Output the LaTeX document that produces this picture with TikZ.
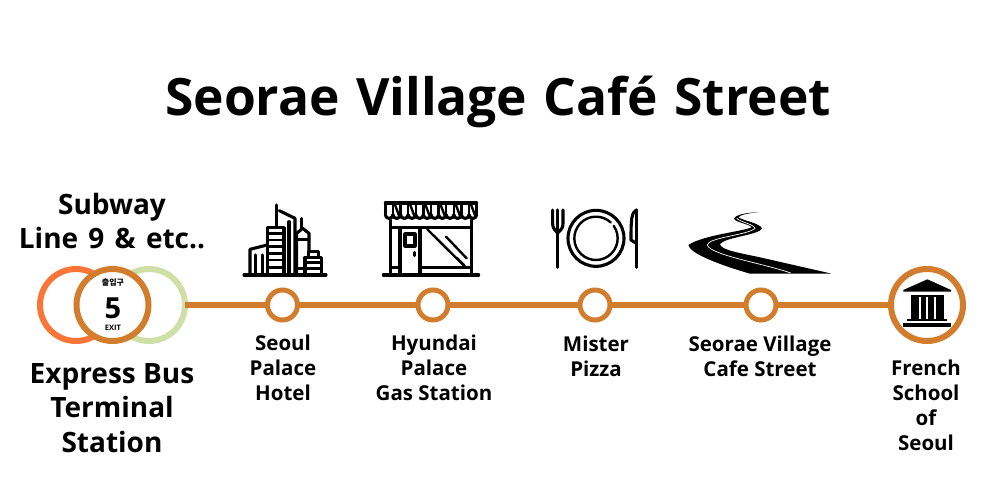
\documentclass[tikz,border=0pt]{standalone}
\usepackage{fontspec}
\setmainfont{Open Sans}
\newfontfamily\cjk{Noto Sans CJK KR}
\definecolor{brownline}{HTML}{D27D2D}
\definecolor{orangering}{HTML}{F97538}
\definecolor{greenring}{HTML}{CFDFA5}
\tikzset{
  x=1pt,y=-1pt,
  station/.style={circle,draw=brownline,line width=5pt,fill=white,minimum size=30pt,inner sep=0pt,outer sep=0pt},
  bigring/.style={circle,line width=6pt,minimum size=72pt,inner sep=0pt,outer sep=0pt},
  lbl/.style={align=center,font=\bfseries\fontsize{20.5}{25}\selectfont,inner sep=0pt,text=black},
  biglbl/.style={align=center,font=\bfseries\fontsize{28}{34.5}\selectfont,inner sep=0pt,text=black},
  icon/.style={draw=black,line width=3.1pt,line cap=round,line join=round},
  thin icon/.style={draw=black,line width=2.4pt,line cap=round,line join=round},
  zoomA/.style={shift={(20,180)},scale=1/3},
  zoomB/.style={shift={(370,190)},scale=1/3},
  zoomC/.style={shift={(670,200)},scale=1/3}
}
\begin{document}
\begin{tikzpicture}
\useasboundingbox (0,0) rectangle (1000,500);
\node[inner sep=0pt,font=\bfseries\fontsize{51.5}{60}\selectfont] (title) at (498,102) {Seorae\hspace{3pt} Village\hspace{3pt} Café\hspace{3pt} Street};

\node[bigring,draw=greenring] (green) at (149,305) {};
\node[bigring,draw=orangering] (orange) at (76,305) {};
\node[bigring,draw=brownline,fill=white] (exit) at (112.5,305) {};
\node[inner sep=0pt,font=\cjk\bfseries\fontsize{8}{9}\selectfont] (kr) at (113,283) {출입구};
\node[inner sep=0pt,font=\bfseries\fontsize{29}{30}\selectfont] (five) at (113,308.5) {5};
\node[inner sep=0pt,font=\fontsize{7.5}{8}\selectfont\bfseries] (exitt) at (113,328) {EXIT};

\node[station] (s1) at (282.5,305) {};
\node[station] (s2) at (433,305) {};
\node[station] (s3) at (595,305) {};
\node[station] (s4) at (761,305) {};
\node[bigring,draw=brownline,fill=white] (s5) at (927,305) {};

\draw[brownline,line width=6pt] (green) -- (s1);
\draw[brownline,line width=6pt] (s1) -- (s2);
\draw[brownline,line width=6pt] (s2) -- (s3);
\draw[brownline,line width=6pt] (s3) -- (s4);
\draw[brownline,line width=6pt] (s4) -- (s5);

\node[biglbl] (subway) at (112,221) {Subway\\Line\hspace{3pt} 9\hspace{3pt} \&\hspace{3pt} etc..};
\node[biglbl] (express) at (112,408) {Express Bus\\Terminal\\Station};
\node[lbl] (l1) at (283,368) {Seoul\\Palace\\Hotel};
\node[lbl] (l2) at (434,368) {Hyundai\\Palace\\Gas Station};
\node[lbl] (l3) at (596,356) {Mister\\Pizza};
\node[lbl] (l4) at (760,356) {Seorae Village\\Cafe Street};
\node[lbl] (l5) at (926,405) {French\\School\\of\\Seoul};

% city
\begin{scope}[zoomA]
\draw[icon] (672,285)--(918,285);
\draw[icon] (690,285)--(690,208)--(742,195);
\draw[icon] (707,285)--(707,225) (727,285)--(727,225);
\draw[icon] (742,285)--(742,143)--(792,143)--(792,285);
\foreach \yy in {160,180,200,220,240,262}{\draw[thin icon] (742,\yy)--(792,\yy);}
\draw[icon] (770,143)--(770,75);
\draw[icon] (778,92)--(825,115)--(825,285);
\draw[icon] (807,125)--(807,285);
\draw[icon] (845,115)--(845,145);
\draw[icon] (830,285)--(830,160)--(848,145)--(867,160)--(867,215);
\draw[thin icon] (830,178)--(867,178);
\draw[thin icon] (830,265)--(855,265);
\draw[icon] (855,285)--(855,232)--(905,232)--(905,285);
\draw[icon] (865,232)--(865,215)--(895,215)--(895,232);
\draw[thin icon] (855,248)--(905,248) (855,266)--(905,266);
\end{scope}

% store
\begin{scope}[zoomB]
\draw[icon] (46,39) -- (320,39);
\draw[icon] (46,39) -- (46,74) (320,39) -- (320,74);
\draw[icon] (46,74) arc[start angle=180,end angle=0,radius=11.4];
\foreach \i in {1,...,11}{
  \pgfmathsetmacro{\xa}{46+\i*22.83}
  \draw[icon] (\xa,74) arc[start angle=180,end angle=0,radius=11.4];
  \draw[thin icon] (\xa,42)--(\xa,74);
}
\foreach \i in {1,3,5,7,9,11}{
  \pgfmathsetmacro{\xa}{46+\i*22.83}
  \pgfmathsetmacro{\xb}{\xa+18}
  \pgfmathsetmacro{\xc}{\xa+6}
  \draw[thin icon] (\xc,44)--(\xb,76);
}
\draw[icon] (62,90)--(62,255) (305,90)--(305,255);
\draw[icon] (62,113)--(305,113);
\draw[icon] (90,113)--(90,255) (150,113)--(150,255);
\draw[icon] (105,132) rectangle (135,168);
\draw[icon] (133,187)--(133,197);
\draw[icon] (62,233)--(90,233) (150,233)--(305,233);
\draw[icon] (40,255)--(326,255);
\draw[thin icon] (172,118)--(285,230) (228,140)--(290,205) (260,203)--(283,226);
\end{scope}

% plate, fork, knife
\begin{scope}[zoomB]
\draw[icon] (678,145) circle[radius=84];
\draw[thin icon] (731.2,107.7) arc[start angle=-35,delta angle=348,radius=65];
\draw[icon] (548,60)--(548,100) .. controls (548,122) and (563,125) .. (563,130) .. controls (563,125) and (579,122) .. (579,100)--(579,60);
\draw[icon] (563,60)--(563,232);
\draw[icon] (799,60)--(799,232);
\draw[icon] (799,60) .. controls (784,68) and (783,90) .. (783,150) -- (799,160);
\end{scope}

% road and museum
\begin{scope}[zoomC]
\fill[black] (268,36) .. controls (235,38) and (200,42) .. (192,55)
  .. controls (195,68) and (235,70) .. (245,82)
  .. controls (215,95) and (100,105) .. (55,135)
  .. controls (58,160) and (150,195) .. (240,221)
  -- (485,221) -- (270,172)
  .. controls (215,160) and (150,150) .. (150,132)
  .. controls (165,112) and (265,105) .. (276,86)
  .. controls (272,70) and (220,62) .. (205,52)
  .. controls (210,44) and (240,39) .. (268,36) -- cycle;
\draw[white,line width=0.7pt] (200,55) .. controls (215,68) and (250,72) .. (255,85)
  .. controls (235,105) and (115,112) .. (112,135)
  .. controls (120,165) and (280,190) .. (362,219);
\fill[black] (772,238) -- (843,270) -- (843,275) -- (700,275) -- (700,270) -- cycle;
\fill[black] (722,284) rectangle (821,290);
\fill[black] (722,290) rectangle (747,356);
\fill[black] (753,290) rectangle (767,356);
\fill[black] (775,290) rectangle (791,356);
\fill[black] (797,290) rectangle (821,356);
\fill[black] (711,356) rectangle (832,364);
\fill[black] (699,369) rectangle (844,381);
\end{scope}
\end{tikzpicture}
\end{document}
